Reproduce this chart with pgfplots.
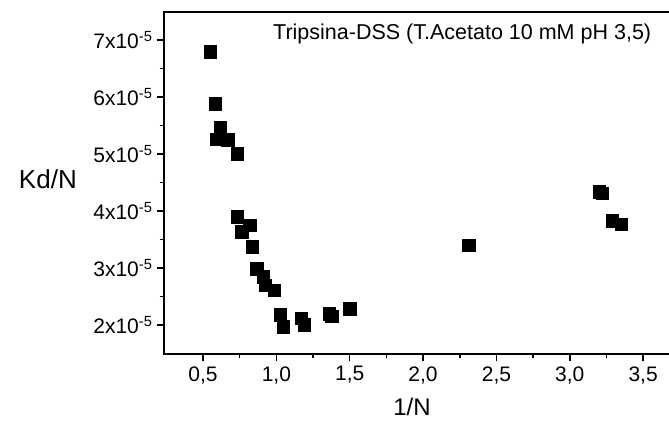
\documentclass[border=0pt]{standalone}
\usepackage{fontspec}
\setmainfont{Liberation Sans}
\usepackage{pgfplots}
\pgfplotsset{compat=1.18}
\begin{document}
\begin{tikzpicture}
\begin{axis}[
  scale only axis,
  clip=false,
  width=515.8pt, height=342pt,
  xmin=0.234, xmax=3.75,
  ymin=1.49e-5, ymax=7.49e-5,
  axis line style={line width=1.8pt},
  tick style={line width=1.5pt, black},
  major tick length=7pt, minor tick length=4pt,
  tick align=outside,
  xtick pos=bottom, ytick pos=left,
  xtick={0.5,1.0,1.5,2.0,2.5,3.0,3.5},
  xticklabels={{0,5},{1,0},{1,5},{2,0},{2,5},{3,0},{3,5}},
  ytick={2e-5,3e-5,4e-5,5e-5,6e-5,7e-5},
  yticklabels={2x10\textsuperscript{-5},3x10\textsuperscript{-5},4x10\textsuperscript{-5},5x10\textsuperscript{-5},6x10\textsuperscript{-5},7x10\textsuperscript{-5}},
  scaled y ticks=false,
  minor x tick num=1, minor y tick num=1,
  tick label style={font=\fontsize{21}{24}\selectfont},
  yticklabel style={xshift=-1pt},
  xticklabel style={yshift=-2pt},
]
\addplot[only marks, mark=square*, mark size=6.3pt, black] coordinates {
(0.548,6.79e-5) (0.582,5.88e-5) (0.616,5.47e-5) (0.589,5.26e-5) (0.670,5.25e-5)
(0.732,5.00e-5) (0.734,3.90e-5) (0.764,3.64e-5) (0.820,3.75e-5) (0.836,3.37e-5)
(0.866,2.99e-5) (0.911,2.85e-5) (0.923,2.70e-5) (0.984,2.61e-5) (1.025,2.18e-5)
(1.047,1.97e-5) (1.170,2.12e-5) (1.190,2.00e-5) (1.360,2.20e-5) (1.377,2.15e-5)
(1.500,2.29e-5) (2.310,3.40e-5) (3.200,4.34e-5) (3.220,4.31e-5) (3.290,3.83e-5)
(3.350,3.77e-5)
};
\node[anchor=base west, inner sep=0pt, font=\fontsize{21.5}{25}\selectfont] at (axis cs:0.977,7.0e-5) {Tripsina-DSS (T.Acetato 10 mM pH 3,5)};
\node[anchor=east, inner sep=0pt, font=\fontsize{26}{30}\selectfont] at ([xshift=-87pt]axis description cs:0,0.512) {Kd/N};
\node[anchor=north, inner sep=0pt, font=\fontsize{24}{28}\selectfont] at ([yshift=-44pt]axis cs:1.925,1.49e-5) {1/N};
\end{axis}
\pgfresetboundingbox
\path[use as bounding box] ([xshift=-164pt,yshift=-75pt]current axis.south west) rectangle ([xshift=505pt,yshift=354pt]current axis.south west);
\end{tikzpicture}
\end{document}
